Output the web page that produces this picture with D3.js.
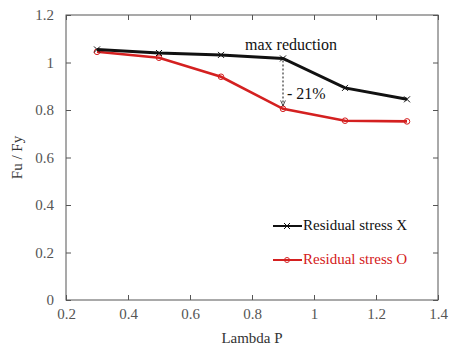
<!DOCTYPE html>
<html>
<head>
<meta charset="utf-8">
<script src="https://d3js.org/d3.v7.min.js"></script>
<style>
  body { margin: 0; background: #fff; }
</style>
</head>
<body>
<script>
var W = 449, H = 349;

// data
var lambdaP = [0.3, 0.5, 0.7, 0.9, 1.1, 1.3];
var stressX = [1.055, 1.04, 1.032, 1.017, 0.893, 0.845];
var stressO = [1.045, 1.02, 0.94, 0.805, 0.755, 0.752];
var xTicks = [0.2, 0.4, 0.6, 0.8, 1, 1.2, 1.4];
var yTicks = [0, 0.2, 0.4, 0.6, 0.8, 1, 1.2];

var margin = {left: 66, top: 15, right: 11, bottom: 49};
var serif = "'Liberation Serif'";

var svg = d3.select("body").append("svg")
  .attr("width", W)
  .attr("height", H)
  .attr("font-family", serif);

var x = d3.scaleLinear().domain([0.2, 1.4]).range([margin.left, W - margin.right]);
var y = d3.scaleLinear().domain([0, 1.2]).range([H - margin.bottom, margin.top]);

// frame
svg.append("rect")
  .attr("x", x(0.2)).attr("y", y(1.2))
  .attr("width", x(1.4) - x(0.2))
  .attr("height", y(0) - y(1.2))
  .attr("fill", "none")
  .attr("stroke", "#555")
  .attr("stroke-width", 1);

// axes, ticks pointing inward
var fmt = function(d) { return String(d); };
var gBottom = svg.append("g")
  .attr("transform", "translate(0," + y(0) + ")")
  .call(d3.axisBottom(x).tickValues(xTicks).tickSize(-5).tickPadding(8).tickFormat(fmt));
var gTop = svg.append("g")
  .attr("transform", "translate(0," + y(1.2) + ")")
  .call(d3.axisTop(x).tickValues(xTicks).tickSize(-5).tickFormat(""));
var gLeft = svg.append("g")
  .attr("transform", "translate(" + x(0.2) + ",0)")
  .call(d3.axisLeft(y).tickValues(yTicks).tickSize(-5).tickPadding(12).tickFormat(fmt));
var gRight = svg.append("g")
  .attr("transform", "translate(" + x(1.4) + ",0)")
  .call(d3.axisRight(y).tickValues(yTicks).tickSize(-5).tickFormat(""));

[gBottom, gTop, gLeft, gRight].forEach(function(g) {
  g.attr("font-family", serif).attr("font-size", 15);
  g.select(".domain").remove();
  g.selectAll(".tick line").attr("stroke", "#555");
  g.selectAll(".tick text").attr("fill", "#555");
});

// axis titles
svg.append("text")
  .attr("x", (x(0.2) + x(1.4)) / 2)
  .attr("y", 343)
  .attr("text-anchor", "middle")
  .attr("font-size", 15)
  .attr("fill", "#333")
  .text("Lambda P");

svg.append("text")
  .attr("transform", "translate(22," + ((y(0) + y(1.2)) / 2) + ") rotate(-90)")
  .attr("text-anchor", "middle")
  .attr("font-size", 15)
  .attr("fill", "#333")
  .text("Fu / Fy");

var line = d3.line()
  .x(function(d) { return x(d[0]); })
  .y(function(d) { return y(d[1]); });

var ptsX = lambdaP.map(function(l, i) { return [l, stressX[i]]; });
var ptsO = lambdaP.map(function(l, i) { return [l, stressO[i]]; });

// red series
svg.append("path")
  .datum(ptsO)
  .attr("d", line)
  .attr("fill", "none")
  .attr("stroke", "#d42020")
  .attr("stroke-width", 2.6);

svg.selectAll("circle.o")
  .data(ptsO)
  .enter().append("circle")
  .attr("class", "o")
  .attr("cx", function(d) { return x(d[0]); })
  .attr("cy", function(d) { return y(d[1]); })
  .attr("r", 2.8)
  .attr("fill", "none")
  .attr("stroke", "#d42020")
  .attr("stroke-width", 1);

// black series
svg.append("path")
  .datum(ptsX)
  .attr("d", line)
  .attr("fill", "none")
  .attr("stroke", "#111")
  .attr("stroke-width", 3);

svg.selectAll("path.x")
  .data(ptsX)
  .enter().append("path")
  .attr("class", "x")
  .attr("d", "M-3,-3L3,3M-3,3L3,-3")
  .attr("transform", function(d) { return "translate(" + x(d[0]) + "," + y(d[1]) + ")"; })
  .attr("stroke", "#111")
  .attr("stroke-width", 1);

// annotation
svg.append("text")
  .attr("x", 245)
  .attr("y", 50)
  .attr("font-size", 16)
  .attr("fill", "#111")
  .text("max reduction");

svg.append("defs").append("marker")
  .attr("id", "arr")
  .attr("viewBox", "0 0 10 10")
  .attr("refX", 9).attr("refY", 5)
  .attr("markerWidth", 6).attr("markerHeight", 6)
  .attr("orient", "auto")
  .append("path")
  .attr("d", "M0,1L9,5L0,9")
  .attr("fill", "none")
  .attr("stroke", "#111")
  .attr("stroke-width", 1.2);

svg.append("line")
  .attr("x1", x(0.9)).attr("y1", y(stressX[3]) + 2)
  .attr("x2", x(0.9)).attr("y2", y(stressO[3]) - 3)
  .attr("stroke", "#111")
  .attr("stroke-width", 1)
  .attr("stroke-dasharray", "2,2")
  .attr("marker-end", "url(#arr)");

svg.append("text")
  .attr("x", x(0.9) + 4)
  .attr("y", 99)
  .attr("font-size", 16)
  .attr("fill", "#111")
  .text("- 21%");

// legend
var legend = [
  {label: "Residual stress X", color: "#111", y: 226, mark: "x"},
  {label: "Residual stress O", color: "#d42020", y: 260, mark: "o"}
];
legend.forEach(function(l) {
  svg.append("line")
    .attr("x1", 273).attr("x2", 302)
    .attr("y1", l.y).attr("y2", l.y)
    .attr("stroke", l.color)
    .attr("stroke-width", 2);
  if (l.mark === "x") {
    svg.append("path")
      .attr("d", "M-3,-3L3,3M-3,3L3,-3")
      .attr("transform", "translate(287," + l.y + ")")
      .attr("stroke", l.color).attr("stroke-width", 1);
  } else {
    svg.append("circle")
      .attr("cx", 287).attr("cy", l.y).attr("r", 2.5)
      .attr("fill", "none").attr("stroke", l.color).attr("stroke-width", 1);
  }
  svg.append("text")
    .attr("x", 303)
    .attr("y", l.y + 4)
    .attr("font-size", 15)
    .attr("fill", l.color)
    .text(l.label);
});
</script>
</body>
</html>
